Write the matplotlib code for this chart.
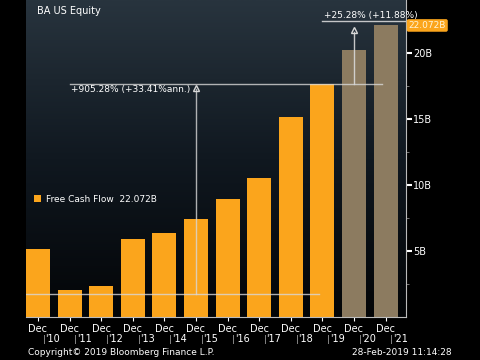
"""Boeing free cash flow, Bloomberg style bar chart"""

import numpy as np
import matplotlib.pyplot as plt
from matplotlib.colors import LinearSegmentedColormap

# data (billions USD)
years = ["'10", "'11", "'12", "'13", "'14", "'15", "'16", "'17", "'18", "'19", "'20", "'21"]
months = ["Dec"] * len(years)
fcf = [5.1, 2.05, 2.35, 5.9, 6.35, 7.4, 8.9, 10.5, 15.1, 17.65, 20.2, 22.072]
is_estimate = [False] * 10 + [True, True]

base_value = 1.76      # start level of the long measurement
long_label = "+905.28% (+33.41%ann.)"
short_label = "+25.28% (+11.88%)"
last_label = "22.072B"
yticks = [5, 10, 15, 20]
ytick_labels = ["5B", "10B", "15B", "20B"]

ORANGE = "#fba51c"
TAN = "#8c7b60"
LINE = "#d8d8d8"

plt.rcParams["font.family"] = ["DejaVu Sans"]

fig = plt.figure(figsize=(4.8, 3.6), dpi=100, facecolor="black")
ax = fig.add_axes([0.054, 0.12, 0.792, 0.88])
ax.set_facecolor("black")

x = np.arange(len(years))
ax.set_xlim(-0.38, 11.65)
ax.set_ylim(0, 24)

# dark gradient background
cmap = LinearSegmentedColormap.from_list("bg", ["#030507", "#101820", "#28343e"])
grad = np.linspace(0, 1, 256).reshape(-1, 1)
ax.imshow(grad, extent=[-0.38, 11.65, 0, 24], origin="lower", aspect="auto",
          cmap=cmap, zorder=0)

colors = [TAN if e else ORANGE for e in is_estimate]
bars = ax.bar(x, fcf, width=0.76, color=colors, zorder=2)

# long measurement
ax.plot([-0.38, 8.9], [base_value, base_value], color=LINE, lw=1, alpha=0.8, zorder=3)
ax.plot([1.0, 10.9], [fcf[9], fcf[9]], color=LINE, lw=1, alpha=0.8, zorder=3)
ax.plot([5.0, 5.0], [base_value, fcf[9] - 0.4], color=LINE, lw=1, alpha=0.8, zorder=3)
ax.plot(5.0, fcf[9] - 0.35, marker="^", ms=5, mfc="none", mec=LINE, zorder=4)
ax.text(1.05, fcf[9] - 0.45, long_label, color="white", fontsize=6.5,
        va="center", ha="left", zorder=4)

# short measurement
top = fcf[9] * 1.2528
ax.plot([9.0, 11.65], [top + 0.3, top + 0.3], color=LINE, lw=1, alpha=0.9, zorder=3)
ax.plot([10.0, 10.0], [fcf[9], top - 0.5], color=LINE, lw=1, alpha=0.9, zorder=3)
ax.plot(10.0, top - 0.4, marker="^", ms=5, mfc="none", mec=LINE, zorder=4)
ax.text(9.05, top + 0.35, short_label, color="white", fontsize=6.5,
        va="bottom", ha="left", zorder=4)

# axes styling
for s in ["top", "left"]:
    ax.spines[s].set_visible(False)
ax.spines["right"].set_color("#bbbbbb")
ax.spines["bottom"].set_color("#bbbbbb")
ax.yaxis.tick_right()
ax.set_yticks(yticks)
ax.set_yticklabels(ytick_labels)
ax.set_yticks([2.5, 7.5, 12.5, 17.5, 22.5], minor=True)
ax.tick_params(axis="y", which="major", colors="white", labelsize=7, length=4,
               width=1.5, pad=1, direction="out")
ax.tick_params(axis="y", which="minor", colors="#888888", length=2)
ax.set_xticks(x)
ax.set_xticklabels(months)
ax.tick_params(axis="x", colors="white", labelsize=7, length=3, pad=2)

# year row under the month row
for i, yr in enumerate(years):
    ax.text(i + 0.47, -1.7, yr, color="white", fontsize=7, ha="center", va="center",
            clip_on=False)
    ax.text(i + 0.2, -1.7, "|", color="#aaaaaa", fontsize=6.5, ha="center",
            va="center", clip_on=False)

# last value tag
ax.text(11.73, fcf[-1], last_label, color="#fff4d8", fontsize=6.5, ha="left",
        va="center", clip_on=False,
        bbox=dict(boxstyle="round,pad=0.2", fc=ORANGE, ec="none"))

# legend
ax.legend([bars[0]], ["Free Cash Flow  22.072B"], loc="center left",
          bbox_to_anchor=(0.0, 0.37), frameon=False, fontsize=6.5,
          labelcolor="white", handlelength=0.8, handleheight=0.8,
          handletextpad=0.5)

ax.text(0.03, 0.965, "BA US Equity", transform=ax.transAxes, color="white",
        fontsize=7, va="center", ha="left")

fig.text(0.058, 0.02, "Copyright\u00a9 2019 Bloomberg Finance L.P.", color="white",
         fontsize=6.5, va="center", ha="left")
fig.text(0.94, 0.02, "28-Feb-2019 11:14:28", color="white", fontsize=6.5,
         va="center", ha="right")

fig.savefig("out.png", dpi=100, facecolor="black")
